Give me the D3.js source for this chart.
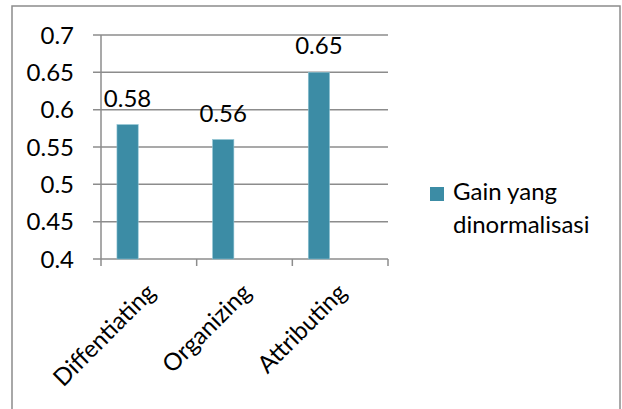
<!DOCTYPE html>
<html>
<head>
<meta charset="utf-8">
<script src="https://cdn.jsdelivr.net/npm/d3@7"></script>
<style>
  html, body { margin: 0; padding: 0; background: #fff; }
  svg { display: block; }
  text { font-family: Lato, "Open Sans", sans-serif; fill: #000; }
</style>
</head>
<body>
<svg id="chart" width="622" height="409"></svg>
<script>
// Data
const categories = ["Diffentiating", "Organizing", "Attributing"];
const gainValues = [0.58, 0.56, 0.65];
const yTicks = [0.4, 0.45, 0.5, 0.55, 0.6, 0.65, 0.7];
const seriesName = ["Gain yang", "dinormalisasi"];

const W = 622, H = 409;
const plot = { left: 101, right: 388, top: 35, bottom: 259 };
const barColor = "#3c8ca5";
const gridColor = "#8c8c8c";

const svg = d3.select("#chart");

// outer chart frame (bottom edge falls outside the view)
svg.append("rect")
  .attr("x", 12).attr("y", 6)
  .attr("width", W - 12 - 2).attr("height", H + 20)
  .attr("fill", "none").attr("stroke", gridColor).attr("stroke-width", 1.5);

const x = d3.scaleBand().domain(categories).range([plot.left, plot.right]).padding(0);
// three series slots per category; only the first one carries data
const slot = d3.scaleBand().domain([0, 1, 2]).range([0, x.bandwidth()])
  .paddingInner(0).paddingOuter(0.75);
const y = d3.scaleLinear().domain([0.4, 0.7]).range([plot.bottom, plot.top]);

// horizontal gridlines with outward ticks
svg.append("g")
  .selectAll("line").data(yTicks).join("line")
  .attr("x1", plot.left - 8).attr("x2", plot.right)
  .attr("y1", d => y(d)).attr("y2", d => y(d))
  .attr("stroke", gridColor).attr("stroke-width", 1.5);

// y axis labels
svg.append("g")
  .selectAll("text").data(yTicks).join("text")
  .attr("x", 74).attr("y", d => y(d) + 8.5)
  .attr("text-anchor", "end")
  .attr("font-size", 24)
  .text(d => d3.format("")(d));

// y axis line
svg.append("line")
  .attr("x1", plot.left).attr("x2", plot.left)
  .attr("y1", plot.top).attr("y2", plot.bottom + 7)
  .attr("stroke", gridColor).attr("stroke-width", 1.5);

// x axis tick marks at category boundaries
const bounds = categories.map(c => x(c)).concat([plot.right]);
svg.append("g")
  .selectAll("line").data(bounds.slice(1)).join("line")
  .attr("x1", d => d).attr("x2", d => d)
  .attr("y1", plot.bottom).attr("y2", plot.bottom + 7)
  .attr("stroke", gridColor).attr("stroke-width", 1.5);

// bars
svg.append("g")
  .selectAll("rect").data(gainValues).join("rect")
  .attr("x", (d, i) => x(categories[i]) + slot(0))
  .attr("width", slot.bandwidth())
  .attr("y", d => y(d))
  .attr("height", d => y(0.4) - y(d))
  .attr("fill", barColor)
  .attr("stroke", "#8ec3d3").attr("stroke-width", 0.6);

// value labels
svg.append("g")
  .selectAll("text").data(gainValues).join("text")
  .attr("x", (d, i) => x(categories[i]) + slot(0) + slot.bandwidth() / 2)
  .attr("y", d => y(d) - 18)
  .attr("text-anchor", "middle")
  .attr("font-size", 24)
  .text(d => d3.format(".2f")(d));

// category labels, rotated
svg.append("g")
  .selectAll("text").data(categories).join("text")
  .attr("text-anchor", "end")
  .attr("font-size", 24)
  .attr("transform", d => `translate(${x(d) + x.bandwidth() / 2 + 8},${plot.bottom + 35}) rotate(-45)`)
  .text(d => d);

// legend
const lg = svg.append("g");
lg.append("rect")
  .attr("x", 430).attr("y", 187).attr("width", 14).attr("height", 14)
  .attr("fill", barColor);
lg.selectAll("text").data(seriesName).join("text")
  .attr("x", 453).attr("y", (d, i) => 200 + i * 33)
  .attr("font-size", 24)
  .text(d => d);
</script>
</body>
</html>
